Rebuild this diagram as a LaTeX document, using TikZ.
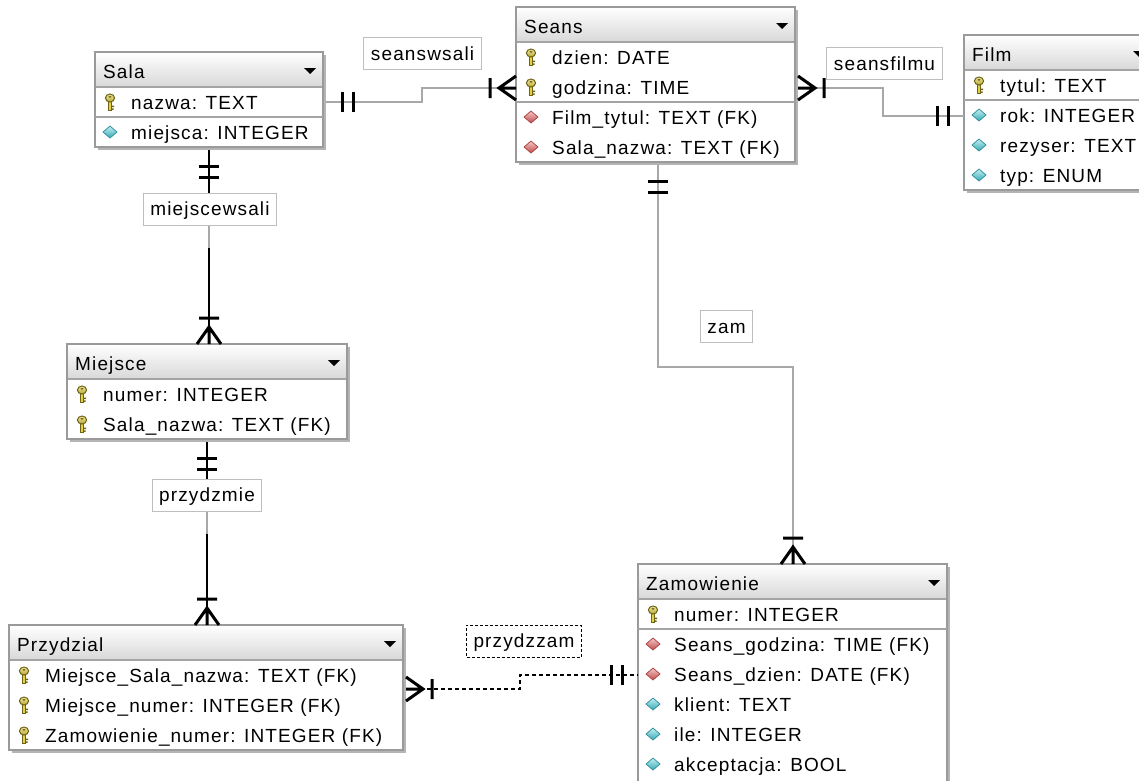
\documentclass[tikz,border=0pt]{standalone}
\usepackage{fontspec}
\newfontfamily\erfont{Liberation Sans}[LetterSpace=6]
\usetikzlibrary{calc}
\definecolor{boxgray}{HTML}{9A9A9A}
\definecolor{shadowgray}{HTML}{B4B4B4}
\definecolor{headgray}{HTML}{D8D8D8}
\definecolor{linegray}{HTML}{A8A8A8}
\definecolor{sepgray}{HTML}{A4A4A4}
\definecolor{lblgray}{HTML}{BEBEBE}
\definecolor{keygold}{HTML}{E6D040}
\definecolor{keydark}{HTML}{6E6418}
\definecolor{fkred}{HTML}{E05A5A}
\definecolor{fkdark}{HTML}{A83C3C}
\definecolor{atcyan}{HTML}{3CC8D6}
\definecolor{atdark}{HTML}{2C8C98}
\tikzset{
  erfontsize/.style={font=\erfont\fontsize{19}{22}\selectfont},
  txt/.style={erfontsize, inner sep=0pt, anchor=base west},
  conn/.style={draw=linegray, line width=1.5pt},
  idconn/.style={draw=black, line width=2pt},
  dconn/.style={draw=black, line width=1.3pt, dash pattern=on 4pt off 3pt},
  markline/.style={draw=black, line width=3pt},
  lbl/.style={draw=lblgray, fill=white, line width=1pt, erfontsize, inner xsep=7pt, inner ysep=0pt, minimum height=32pt, text height=15pt, text depth=2pt},
  dlbl/.style={lbl, draw=black, dash pattern=on 3pt off 2pt},
  tblbox/.style={draw=boxgray, line width=1.6pt, inner sep=0pt, outer sep=0pt, anchor=north west},
  sepline/.style={draw=sepgray, line width=1.2pt},
  keyicon/.pic={
    \fill[keydark] (-2,-1) rectangle (2,8.5);
    \fill[keygold] (-0.9,-1) rectangle (0.9,7.5);
    \fill[keydark] (2,3.5) rectangle (4.2,5) (2,6.3) rectangle (3.6,7.8);
    \path[draw=keydark, line width=1pt, top color=keygold!50!white, bottom color=keygold!80!black] (0,-4) ellipse (4.6 and 4);
    \fill[keydark] (0,-5.2) ellipse (1.6 and 1);
  },
  fkicon/.pic={
    \path[draw=fkdark, line width=0.7pt, top color=fkred!35!white, bottom color=fkred!85!black] (0,-6) -- (7,0) -- (0,6) -- (-7,0) -- cycle;
  },
  aticon/.pic={
    \path[draw=atdark, line width=0.7pt, top color=atcyan!30!white, bottom color=atcyan!85!black] (0,-6) -- (7,0) -- (0,6) -- (-7,0) -- cycle;
  },
  oneone/.pic={
    \draw[markline] (16,-10) -- (16,10) (27,-10) -- (27,10);
  },
  onemany/.pic={
    \draw[markline] (0,-12) -- (17,0) -- (0,12) (0,0) -- (17,0) (26,-10) -- (26,10);
  }
}
% #1 name, #2 left, #3 top, #4 right, #5 bottom, #6 title
\newcommand\ERtable[6]{%
  \fill[shadowgray] (#2+3,#3+3) rectangle (#4+3,#5+3);
  \fill[white] (#2,#3) rectangle (#4,#5);
  \shade[top color=white, bottom color=headgray] (#2,#3) rectangle (#4,#3+35);
  \draw[sepline] (#2,#3+35) -- (#4,#3+35);
  \fill[black] (#4-19,#3+16) -- (#4-7,#3+16) -- (#4-13,#3+22) -- cycle;
  \node[txt] (#1-h) at (#2+8,#3+26) {#6};
  \node[tblbox, minimum width={#4-#2}, minimum height={#5-#3}] (#1) at (#2,#3) {};
}
% #1 name, #2 left, #3 row centre, #4 icon, #5 text
\newcommand\ERrow[5]{%
  \pic at (#2+15,#3) {#4};
  \node[txt] (#1) at (#2+36,#3+7) {#5};
}
\begin{document}
\begin{tikzpicture}[x=1pt,y=-1pt]
\useasboundingbox (0,0) rectangle (1139,780);
\fill[white] (0,0) rectangle (1139,780);
\clip (0,0) rectangle (1139,780);

\ERtable{sala}{95}{52}{323}{147}{Sala}
\ERtable{seans}{516}{7}{795}{162}{Seans}
\ERtable{film}{964}{35}{1152}{190}{Film}
\ERtable{miejsce}{67}{344}{347}{439}{Miejsce}
\ERtable{przydzial}{9}{625}{403}{750}{Przydzial}
\ERtable{zamowienie}{638}{564}{947}{792}{Zamowienie}

% separator lines between key and non-key columns
\draw[sepline] (95,117) -- (323,117);
\draw[sepline] (516,102) -- (795,102);
\draw[sepline] (964,100) -- (1152,100);
\draw[sepline] (638,629) -- (947,629);

% rows
\ERrow{sala-1}{95}{102}{keyicon}{nazwa: TEXT}
\ERrow{sala-2}{95}{132}{aticon}{miejsca: INTEGER}

\ERrow{seans-1}{516}{57}{keyicon}{dzien: DATE}
\ERrow{seans-2}{516}{87}{keyicon}{godzina: TIME}
\ERrow{seans-3}{516}{117}{fkicon}{Film\_tytul: TEXT (FK)}
\ERrow{seans-4}{516}{147}{fkicon}{Sala\_nazwa: TEXT (FK)}

\ERrow{film-1}{964}{85}{keyicon}{tytul: TEXT}
\ERrow{film-2}{964}{115}{aticon}{rok: INTEGER}
\ERrow{film-3}{964}{145}{aticon}{rezyser: TEXT}
\ERrow{film-4}{964}{175}{aticon}{typ: ENUM}

\ERrow{miejsce-1}{67}{394}{keyicon}{numer: INTEGER}
\ERrow{miejsce-2}{67}{424}{keyicon}{Sala\_nazwa: TEXT (FK)}

\ERrow{przydzial-1}{9}{675}{keyicon}{Miejsce\_Sala\_nazwa: TEXT (FK)}
\ERrow{przydzial-2}{9}{705}{keyicon}{Miejsce\_numer: INTEGER (FK)}
\ERrow{przydzial-3}{9}{735}{keyicon}{Zamowienie\_numer: INTEGER (FK)}

\ERrow{zamowienie-1}{638}{614}{keyicon}{numer: INTEGER}
\ERrow{zamowienie-2}{638}{644}{fkicon}{Seans\_godzina: TIME (FK)}
\ERrow{zamowienie-3}{638}{674}{fkicon}{Seans\_dzien: DATE (FK)}
\ERrow{zamowienie-4}{638}{704}{aticon}{klient: TEXT}
\ERrow{zamowienie-5}{638}{734}{aticon}{ile: INTEGER}
\ERrow{zamowienie-6}{638}{764}{aticon}{akceptacja: BOOL}

% attachment points on the tables
\coordinate (salaR) at ($(sala.north east)+(3,50)$);
\coordinate (seansL) at ($(seans.north west)+(0,81)$);
\coordinate (seansR) at ($(seans.north east)+(3,81)$);
\coordinate (filmL) at ($(film.north west)+(0,81)$);
\coordinate (salaB) at ($(sala.south west)+(114,3)$);
\coordinate (miejsceT) at ($(miejsce.north west)+(142,0)$);
\coordinate (miejsceB) at ($(miejsce.south west)+(140,3)$);
\coordinate (przydzialT) at ($(przydzial.north west)+(198,0)$);
\coordinate (seansB) at ($(seans.south west)+(142,3)$);
\coordinate (zamT) at ($(zamowienie.north west)+(155,0)$);
\coordinate (przydzialR) at ($(przydzial.north east)+(3,64)$);
\coordinate (zamL) at ($(zamowienie.north west)+(0,111)$);

% connectors
\draw[conn] (salaR) -- ++(96,0) |- (seansL);
\draw[conn] (seansR) -- ++(85,0) |- (filmL);
\draw[idconn] (salaB) -- (miejsceT);
\draw[idconn] (miejsceB) -- (przydzialT);
\draw[conn] (seansB) -- ++(0,202) -| (zamT);
\draw[dconn] (przydzialR) -- ++(114,0) |- (zamL);

% labels
\node[lbl] (seanswsali) at (422.5,53.5) {seanswsali};
\node[lbl] (seansfilmu) at (884.5,63.5) {seansfilmu};
\node[lbl] (miejscewsali) at (210,209) {miejscewsali};
\node[lbl] (przydzmie) at (207,495) {przydzmie};
\node[lbl] (zam) at (726.5,326.5) {zam};
\node[dlbl] (przydzzam) at (524,641) {przydzzam};

% light segment just below the labels of the identifying connectors
\draw[white, line width=3pt] (miejscewsali.south -| salaB) -- ++(0,22);
\draw[conn, line width=1.2pt] (miejscewsali.south -| salaB) -- ++(0,22);
\draw[white, line width=3pt] (przydzmie.south -| miejsceB) -- ++(0,22);
\draw[conn, line width=1.2pt] (przydzmie.south -| miejsceB) -- ++(0,22);

% cardinality marks
\pic at (salaR) {oneone};
\pic[rotate=180] at (seansL) {onemany};
\pic at (seansR) {onemany};
\pic[rotate=180] at (filmL) {oneone};
\pic[rotate=-90] at (salaB) {oneone};
\pic[rotate=90] at (miejsceT) {onemany};
\pic[rotate=-90] at (miejsceB) {oneone};
\pic[rotate=90] at (przydzialT) {onemany};
\pic[rotate=-90] at (seansB) {oneone};
\pic[rotate=90] at (zamT) {onemany};
\pic at (przydzialR) {onemany};
\pic[rotate=180] at (zamL) {oneone};
\end{tikzpicture}
\end{document}
